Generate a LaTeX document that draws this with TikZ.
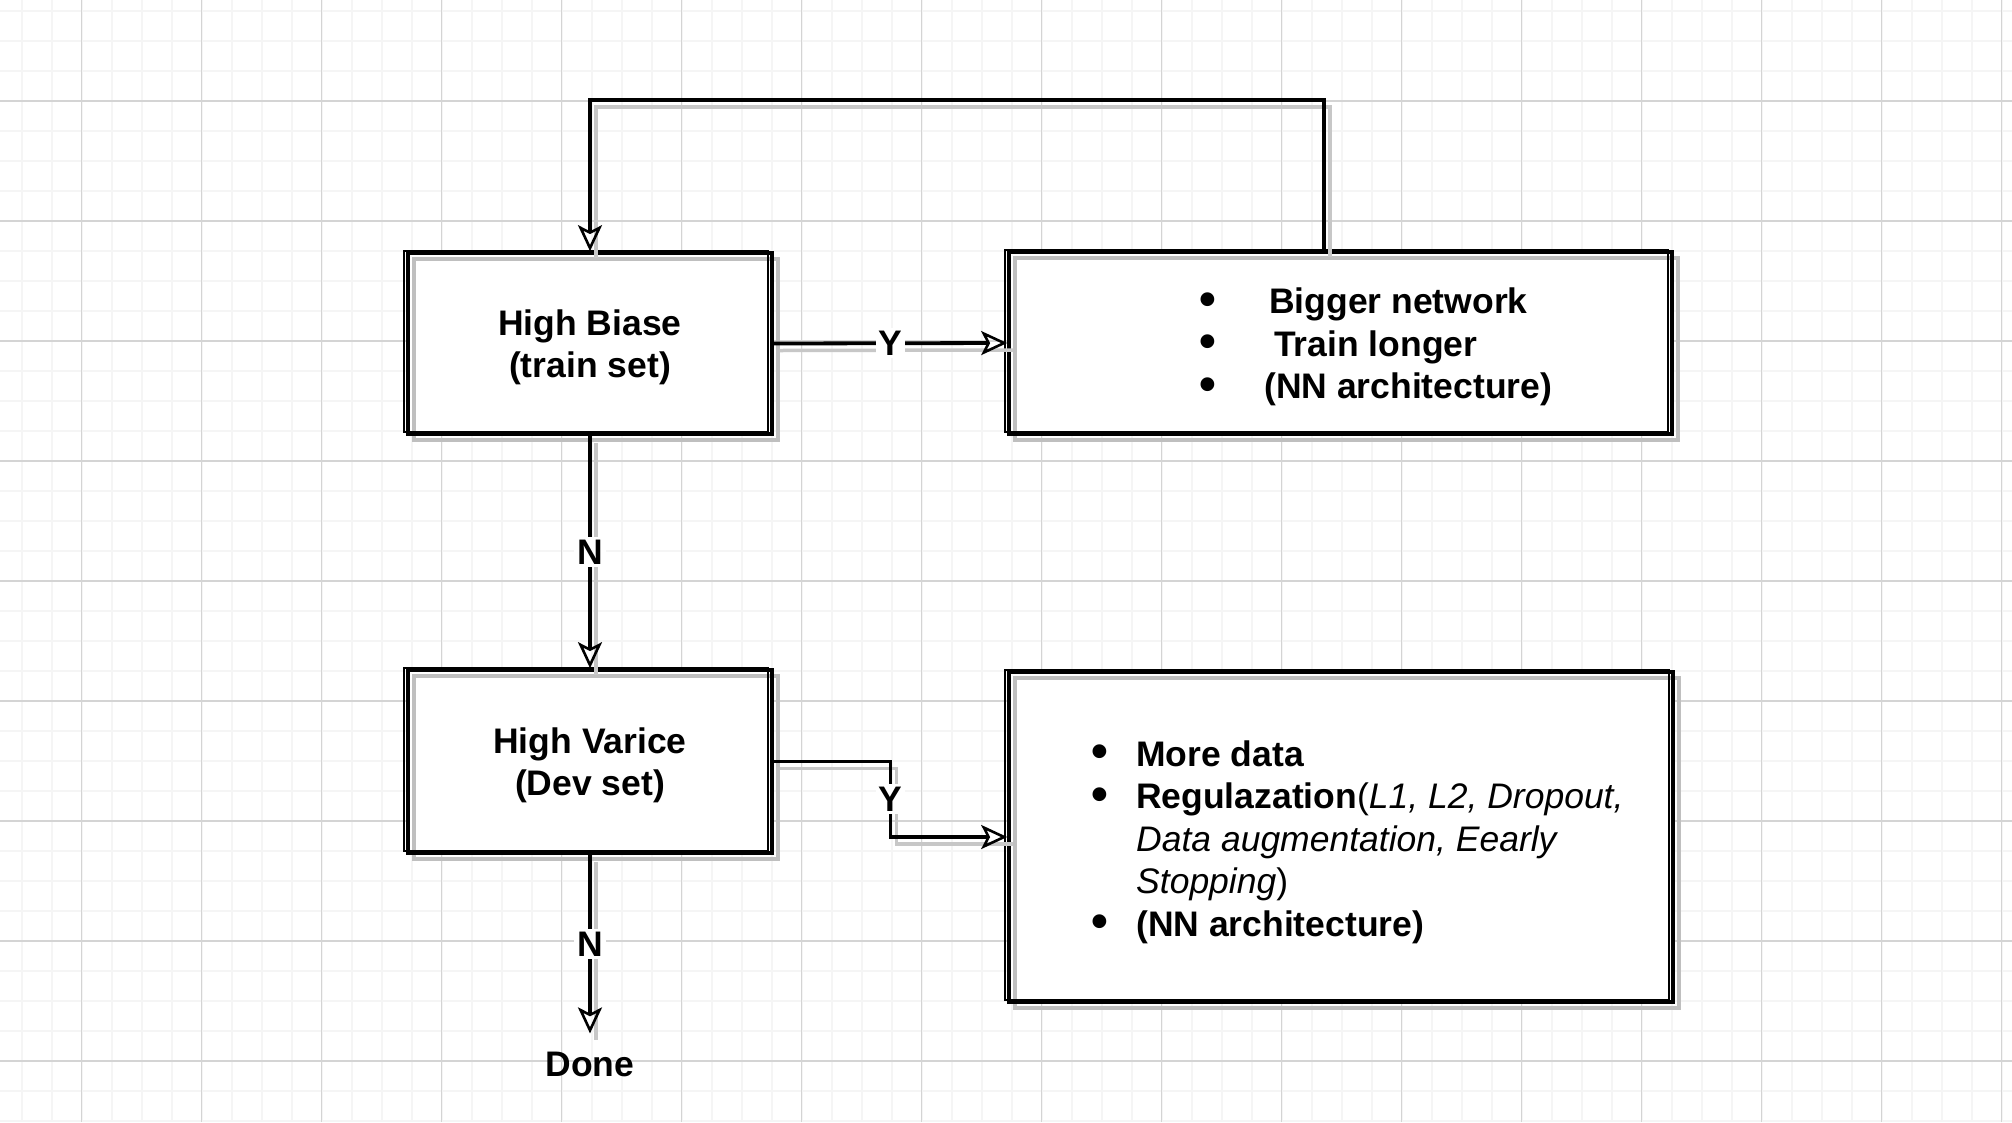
\documentclass[tikz,border=0pt]{standalone}
\usepackage{fontspec}
\setmainfont{Liberation Sans}
\usetikzlibrary{arrows.meta,calc}
\newcommand{\bigbul}{\raisebox{-1.5pt}{\scalebox{1.35}{\textbf{•}}}}
\begin{document}
\begin{tikzpicture}[x=1pt,y=-1pt,
  minorgrid/.style={draw=black!4, line width=2pt},
  majorgrid/.style={draw=black!17, line width=1.4pt},
  box/.style={draw=black, line width=3.6pt, rectangle, inner sep=0pt,
     preaction={fill=white},
     preaction={draw=black!25, line width=4pt, transform canvas={xshift=6pt,yshift=-6pt}},
     postaction={draw=black, line width=1.8pt, transform canvas={xshift=-4pt,yshift=2pt}}},
  boxtxt/.style={font=\bfseries\fontsize{35.5}{42}\selectfont, align=center},
  listtxt/.style={font=\fontsize{35.5}{42.5}\selectfont, align=left, inner sep=0pt, anchor=west},
  conn/.style={draw=black, line width=3.8pt,
     -{Stealth[open, length=26pt, width=24pt, inset=6pt, line width=2.6pt]},
     preaction={draw=black!22, line width=3.5pt, arrows=-, transform canvas={xshift=6pt,yshift=-7pt}}},
  lbl/.style={fill=white, inner sep=3pt, font=\bfseries\fontsize{35.5}{42}\selectfont},
]
\useasboundingbox (0,0) rectangle (2012,1122);
\fill[white] (0,0) rectangle (2012,1122);
% grid
\foreach \i in {0,...,67} \draw[minorgrid] (21.5+30*\i,0) -- (21.5+30*\i,1122);
\foreach \j in {0,...,37} \draw[minorgrid] (0,11+30*\j) -- (2012,11+30*\j);
\foreach \i in {0,...,16} \draw[majorgrid] (81.5+120*\i,0) -- (81.5+120*\i,1122);
\foreach \j in {0,...,8} \draw[majorgrid] (0,101+120*\j) -- (2012,101+120*\j);

% boxes
\node[box, minimum width=364pt, minimum height=181pt] (bias) at (590,343.5) {};
\node[boxtxt] (biastxt) at ($(bias.center)+(0,4)$) {High Biase\\(train set)};
\node[box, minimum width=663pt, minimum height=182pt] (biasfix) at (1340.5,343) {};
\node[listtxt] (biasfixtxt) at (1199,347) {%
  \makebox[70pt][l]{\bigbul}\textbf{Bigger network}\\
  \makebox[75pt][l]{\bigbul}\textbf{Train longer}\\
  \makebox[65pt][l]{\bigbul}\textbf{(NN architecture)}};
\node[box, minimum width=664pt, minimum height=330pt] (varfix) at (1341,837) {};
\node[box, minimum width=364pt, minimum height=183pt] (var) at (590,761.5) {};
\node[boxtxt] (vartxt) at ($(var.center)+(0,4)$) {High Varice\\(Dev set)};
\node[listtxt] (varfixtxt) at (1091,842) {%
  \makebox[45pt][l]{\bigbul}\textbf{More data}\\
  \makebox[45pt][l]{\bigbul}\textbf{Regulazation}(\textit{L1, L2, Dropout,}\\
  \hspace*{45pt}\textit{Data augmentation, Eearly}\\
  \hspace*{45pt}\textit{Stopping})\\
  \makebox[45pt][l]{\bigbul}\textbf{(NN architecture)}};
\node[boxtxt, inner ysep=18pt] (done) at (590,1064) {Done};

% connectors
\coordinate (loop) at (1324,100);
\draw[conn] (loop |- biasfix.north) -- (loop) -| (bias.north);
\draw[conn] (bias.east) -- node[lbl] {Y} (biasfix.west);
\draw[conn] (bias.south) -- node[lbl] {N} (var.north);
\coordinate (ymid) at ($(var.east)!0.5!(varfix.west)$);
\draw[conn] (var.east) -| (ymid) |- (varfix.west);
\node[lbl] (ylbl) at (ymid) {Y};
\draw[conn] (var.south) -- node[lbl] {N} (done.north);
\end{tikzpicture}
\end{document}
